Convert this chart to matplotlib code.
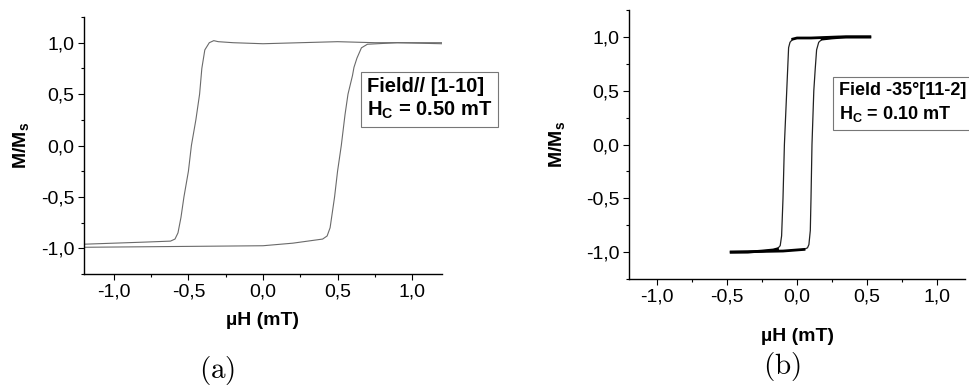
import matplotlib
matplotlib.use('Agg')
import matplotlib.pyplot as plt
from matplotlib.ticker import MultipleLocator, FuncFormatter

plt.rcParams['font.family'] = ['Liberation Sans', 'DejaVu Sans']
plt.rcParams['mathtext.fontset'] = 'custom'
plt.rcParams['mathtext.rm'] = 'Liberation Sans'
plt.rcParams['mathtext.bf'] = 'Liberation Sans:bold'

# (a) field // [1-10], descending and ascending branches
h_a_down = [1.2, 1.0, 0.75, 0.5, 0.25, 0.0, -0.2, -0.3, -0.33, -0.36, -0.39, -0.41,
            -0.425, -0.45, -0.48, -0.50, -0.53, -0.55, -0.57, -0.59, -0.62, -0.8, -1.0, -1.2]
m_a_down = [1.0, 1.0, 1.0, 1.01, 1.0, 0.99, 1.0, 1.01, 1.02, 1.0, 0.93, 0.75,
            0.5, 0.25, 0.0, -0.25, -0.5, -0.7, -0.85, -0.91, -0.93, -0.94, -0.95, -0.96]
h_a_up = [-1.2, -0.8, -0.4, 0.0, 0.2, 0.4, 0.43, 0.45, 0.47, 0.48, 0.5, 0.525,
          0.55, 0.57, 0.6, 0.61, 0.63, 0.66, 0.7, 0.9, 1.2]
m_a_up = [-0.99, -0.985, -0.98, -0.975, -0.95, -0.91, -0.88, -0.8, -0.6, -0.5, -0.25, 0.0,
          0.3, 0.5, 0.68, 0.76, 0.85, 0.95, 0.985, 1.0, 0.99]

# (b) field -35deg [11-2]
h_b_down = [0.52, 0.4, 0.3, 0.2, 0.1, 0.0, -0.03, -0.05, -0.06, -0.07, -0.08, -0.09,
            -0.1, -0.11, -0.12, -0.14, -0.17, -0.25, -0.35, -0.47]
m_b_down = [1.0, 1.0, 1.0, 0.995, 0.99, 0.99, 0.98, 0.95, 0.9, 0.6, 0.3, 0.0,
            -0.5, -0.85, -0.94, -0.97, -0.98, -0.99, -1.0, -1.0]
h_b_up = [-0.47, -0.3, -0.1, 0.0, 0.05, 0.075, 0.085, 0.095, 0.1, 0.107, 0.12, 0.13,
          0.14, 0.155, 0.18, 0.25, 0.35, 0.52]
m_b_up = [-1.0, -0.995, -0.99, -0.98, -0.975, -0.96, -0.93, -0.8, -0.5, 0.0, 0.5, 0.7,
          0.88, 0.95, 0.98, 0.99, 1.0, 1.0]

ticks = [-1.0, -0.5, 0.0, 0.5, 1.0]
comma = FuncFormatter(lambda v, p: ('%.1f' % v).replace('.', ','))

fig = plt.figure(figsize=(9.69, 3.90), dpi=100)
ax_a = fig.add_axes([0.0867, 0.2974, 0.3694, 0.659])
ax_b = fig.add_axes([0.6491, 0.2846, 0.3468, 0.6897])


def style(ax, xpad, ypad):
    ax.set_xlim(-1.2, 1.2)
    ax.set_ylim(-1.25, 1.25)
    ax.spines['top'].set_visible(False)
    ax.spines['right'].set_visible(False)
    for s in ['left', 'bottom']:
        ax.spines[s].set_linewidth(1.0)
    ax.set_xticks(ticks)
    ax.set_yticks(ticks)
    ax.xaxis.set_minor_locator(MultipleLocator(0.25))
    ax.yaxis.set_minor_locator(MultipleLocator(0.25))
    ax.xaxis.set_major_formatter(comma)
    ax.yaxis.set_major_formatter(comma)
    ax.tick_params(which='major', direction='out', length=4, width=0.8, labelsize=14, pad=3)
    ax.tick_params(which='minor', direction='out', length=2.5, width=0.8)
    ax.set_xlabel('µH (mT)', fontsize=14, fontweight='bold', labelpad=xpad)
    ax.set_ylabel(r'M/M$_\mathbf{s}$', fontsize=14, fontweight='bold', labelpad=ypad)


ax_a.plot(h_a_down, m_a_down, color='#6a6a6a', lw=0.8)
ax_a.plot(h_a_up, m_a_up, color='#6a6a6a', lw=0.8)
style(ax_a, 8, 6)
ax_a.text(0.79, 0.681, 'Field// [1-10]\n' + r'H$_\mathbf{C}$ = 0.50 mT', transform=ax_a.transAxes,
          fontsize=14.5, fontweight='bold', va='center', ha='left', linespacing=1.25, clip_on=False,
          bbox=dict(boxstyle='square,pad=0.3', fc='white', ec='#777777', lw=0.8))

# thin line through the switching, heavier noisy-looking plateaus
ax_b.plot(h_b_down, m_b_down, color='#222222', lw=0.9)
ax_b.plot(h_b_up, m_b_up, color='#222222', lw=0.9)
ax_b.plot(h_b_down[:7], m_b_down[:7], color='black', lw=2.0)
ax_b.plot(h_b_down[-5:], m_b_down[-5:], color='black', lw=2.0)
ax_b.plot(h_b_up[:5], m_b_up[:5], color='black', lw=2.0)
ax_b.plot(h_b_up[-4:], m_b_up[-4:], color='black', lw=2.0)
style(ax_b, 16, 13)
ax_b.text(0.625, 0.654, 'Field -35°[11-2]\n' + r'H$_\mathbf{C}$ = 0.10 mT', transform=ax_b.transAxes,
          fontsize=13, fontweight='bold', va='center', ha='left', linespacing=1.3, clip_on=False,
          bbox=dict(boxstyle='square,pad=0.35', fc='white', ec='#777777', lw=0.8))

fig.text(0.224, 0.05, r'$\mathrm{(a)}$', fontsize=21, ha='center', va='center', math_fontfamily='cm')
fig.text(0.807, 0.06, r'$\mathrm{(b)}$', fontsize=21, ha='center', va='center', math_fontfamily='cm')

fig.savefig('out.png', dpi=100)
